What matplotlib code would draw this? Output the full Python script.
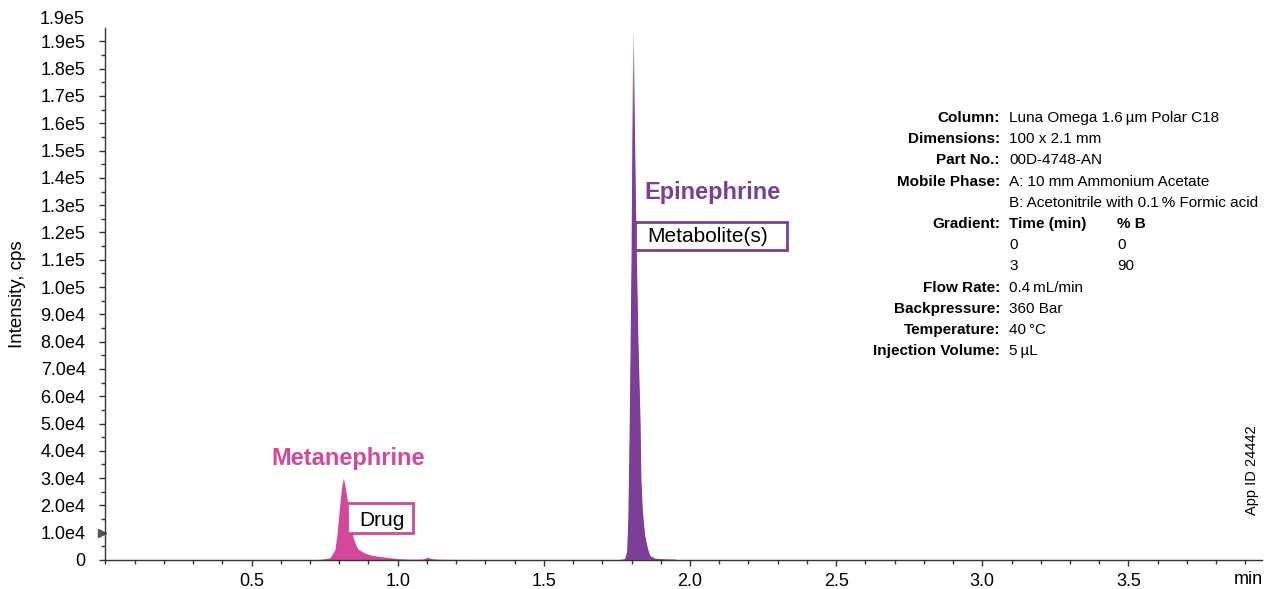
import matplotlib
matplotlib.use("Agg")
import numpy as np
import matplotlib.pyplot as plt
from matplotlib.ticker import MultipleLocator, FixedLocator
from matplotlib.patches import Rectangle
from matplotlib.colors import LinearSegmentedColormap

plt.rcParams['font.family'] = ['Liberation Sans', 'DejaVu Sans']

# chromatogram traces (time in min, intensity in cps)
meta_t = [0.00, 0.70, 0.74, 0.768, 0.785, 0.793, 0.800, 0.808, 0.814, 0.820, 0.826,
          0.831, 0.840, 0.848, 0.857, 0.865, 0.885, 0.905, 0.93, 0.962, 1.00, 1.05,
          1.085, 1.10, 1.105, 1.115, 1.14, 1.20, 1.35, 1.60, 1.76]
meta_i = [0, 0, 300, 800, 3700, 10000, 18400, 26500, 30100, 27000, 23000,
          19000, 12500, 8000, 5400, 3900, 2700, 1900, 1400, 1000, 500, 300,
          350, 900, 1000, 500, 300, 200, 150, 100, 0]

epi_t = [1.76, 1.778, 1.785, 1.789, 1.792, 1.795, 1.800, 1.804, 1.806, 1.809, 1.815,
         1.822, 1.829, 1.832, 1.837, 1.845, 1.855, 1.863, 1.88, 1.92, 2.00, 2.50, 3.96]
epi_i = [0, 300, 3000, 15000, 35000, 60000, 110000, 170000, 194000, 165000, 120000,
         80000, 52000, 30000, 18000, 9000, 4000, 1500, 500, 200, 150, 100, 80]

y_ticks = [0, 1e4, 2e4, 3e4, 4e4, 5e4, 6e4, 7e4, 8e4, 9e4, 1e5, 1.1e5, 1.2e5, 1.3e5,
           1.4e5, 1.5e5, 1.6e5, 1.7e5, 1.8e5, 1.9e5]
y_labels = ['0', '1.0e4', '2.0e4', '3.0e4', '4.0e4', '5.0e4', '6.0e4', '7.0e4', '8.0e4',
            '9.0e4', '1.0e5', '1.1e5', '1.2e5', '1.3e5', '1.4e5', '1.5e5', '1.6e5',
            '1.7e5', '1.8e5', '1.9e5']
x_ticks = [0.5, 1.0, 1.5, 2.0, 2.5, 3.0, 3.5]
x_labels = ['0.5', '1.0', '1.5', '2.0', '2.5', '3.0', '3.5']

info_keys = ['Column:', 'Dimensions:', 'Part No.:', 'Mobile Phase:', '', 'Gradient:', '', '',
             'Flow Rate:', 'Backpressure:', 'Temperature:', 'Injection Volume:']
info_vals = ['Luna Omega 1.6\u2009\u00b5m Polar C18', '100 x 2.1 mm', '00D-4748-AN',
             'A: 10 mm Ammonium Acetate', 'B: Acetonitrile with 0.1\u2009% Formic acid',
             'Time (min)', '0', '3', '0.4\u2009mL/min', '360 Bar', '40\u2009\u00b0C', '5\u2009\u00b5L']
grad_b = ['% B', '0', '90']

pink = '#D4479A'
purple = '#7B3F98'
axcol = '#333333'

W, H = 1269, 589


def fx(px):
    return px / W


def fy(py):
    return 1 - py / H


fig = plt.figure(figsize=(12.69, 5.89), dpi=100)
ax = fig.add_axes([fx(105.4), fy(560), (1262 - 105.4) / W, 532 / H])

ax.fill_between(meta_t, meta_i, color=pink, lw=0)
epi = ax.fill_between(epi_t, epi_i, color=purple, lw=0)

# fading tip of the tall peak
cmap = LinearSegmentedColormap.from_list(
    'tip', [(0, purple), (0.80, purple), (0.93, '#A27AB8'), (1, '#F4EEF7')])
grad = np.linspace(0, 1, 256).reshape(-1, 1)
im = ax.imshow(grad, cmap=cmap, origin='lower', aspect='auto',
               extent=[1.70, 1.95, 0, 1.95e5], zorder=3)
im.set_clip_path(epi.get_paths()[0], transform=ax.transData)

ax.set_xlim(0, 3.957)
ax.set_ylim(0, 1.949e5)
for s in ['top', 'right']:
    ax.spines[s].set_visible(False)
for s in ['left', 'bottom']:
    ax.spines[s].set_color(axcol)
    ax.spines[s].set_linewidth(1.0)

ax.yaxis.set_major_locator(FixedLocator(y_ticks))
ax.set_yticklabels(y_labels)
ax.yaxis.set_minor_locator(MultipleLocator(5e3))
ax.xaxis.set_major_locator(FixedLocator(x_ticks))
ax.set_xticklabels(x_labels)
ax.xaxis.set_minor_locator(MultipleLocator(0.1))
ax.tick_params(axis='both', which='major', labelsize=13, length=4.3, color=axcol, width=1)
ax.tick_params(axis='both', which='minor', length=3, color=axcol, width=1)
ax.tick_params(axis='y', pad=10)
ax.tick_params(axis='x', pad=5)

# label above the top of the spine
ax.text(-0.018, 1.98e5, '1.9e5', transform=ax.get_yaxis_transform(), ha='right',
        va='center', fontsize=13, clip_on=False)
fig.text(fx(1248), fy(580), 'min', ha='center', va='center', fontsize=13)
ax.set_ylabel('Intensity, cps', fontsize=13.5)
ax.yaxis.set_label_coords(-0.069, 0.5)

# marker at 1.0e4
ax.plot([-0.003], [1e4], marker='>', color='#555555', markersize=6,
        transform=ax.get_yaxis_transform(), clip_on=False)

# peak labels
fig.text(fx(348), fy(458), 'Metanephrine', color=pink, fontsize=17,
         fontweight='bold', ha='center', va='center')
fig.text(fx(712), fy(193), 'Epinephrine', color=purple, fontsize=17,
         fontweight='bold', ha='center', va='center')

fig.patches.append(Rectangle((fx(347), fy(533)), fx(413) - fx(347), fy(503) - fy(533),
                             transform=fig.transFigure, fc='white', ec=pink, lw=2))
fig.patches.append(Rectangle((fx(635), fy(250)), fx(787) - fx(635), fy(222) - fy(250),
                             transform=fig.transFigure, fc='white', ec=purple, lw=2))
fig.text(fx(359), fy(520), 'Drug', fontsize=15, ha='left', va='center')
fig.text(fx(647), fy(237), 'Metabolite(s)', fontsize=15, ha='left', va='center')

# method info block
y0 = 118
for k, (key, val) in enumerate(zip(info_keys, info_vals)):
    yy = fy(y0 + k * 21.2)
    if key:
        fig.text(fx(1000), yy, key, fontsize=11, fontweight='bold',
                 ha='right', va='center')
    fig.text(fx(1009), yy, val, fontsize=11,
             fontweight='bold' if val == 'Time (min)' else 'normal', ha='left', va='center')
for k, val in enumerate(grad_b):
    yy = fy(y0 + (5 + k) * 21.2)
    fig.text(fx(1117), yy, val, fontsize=11,
             fontweight='bold' if k == 0 else 'normal', ha='left', va='center')

fig.text(fx(1252), fy(470), 'App ID 24442', rotation=90, fontsize=10.5,
         ha='center', va='center')

fig.savefig('out.png', dpi=100)
